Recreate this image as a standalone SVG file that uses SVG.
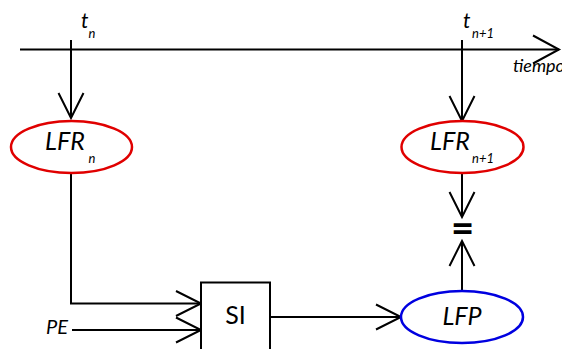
<svg xmlns="http://www.w3.org/2000/svg" width="562" height="349" viewBox="0 0 562 349">
<style>
.ln{fill:none;stroke:#000;stroke-width:2}
.t{font-family:Lato,"Open Sans","Liberation Sans",sans-serif;fill:#000}
.it{font-style:italic}
.red{fill:#fff;stroke:#e00000;stroke-width:2.5}
.blue{fill:#fff;stroke:#0000e0;stroke-width:2.5}
</style>
<defs>
<marker id="ah" markerUnits="userSpaceOnUse" markerWidth="30" markerHeight="30" viewBox="-27 -14 30 28" refX="0" refY="0" orient="auto" overflow="visible">
<path d="M-25,-12.5 L0,0 L-25,12.5" fill="none" stroke="#000" stroke-width="2"/>
</marker>
<marker id="ahT" markerUnits="userSpaceOnUse" markerWidth="30" markerHeight="30" viewBox="-28 -15 30 30" refX="0" refY="0" orient="auto" overflow="visible">
<path d="M-26,-14 L0,0 L-26,14" fill="none" stroke="#000" stroke-width="2"/>
</marker>
</defs>
<g id="connectors">
<line class="ln" x1="20" y1="49.5" x2="559" y2="49.5" marker-end="url(#ahT)"/>
<line class="ln" x1="71" y1="40" x2="71" y2="118" marker-end="url(#ah)"/>
<line class="ln" x1="462" y1="40" x2="462" y2="121" marker-end="url(#ah)"/>
<line class="ln" x1="462" y1="172" x2="462" y2="217" marker-end="url(#ah)"/>
<line class="ln" x1="462" y1="291" x2="462" y2="241" marker-end="url(#ah)"/>
<polyline class="ln" points="71,173 71,303.5 201,303.5" marker-end="url(#ah)"/>
<line class="ln" x1="72" y1="330" x2="201" y2="330" marker-end="url(#ah)"/>
<line class="ln" x1="270" y1="317" x2="401" y2="317" marker-end="url(#ah)"/>
</g>
<g id="timeline-labels">
<text class="t it" x="81" y="28" font-size="21">t</text>
<text class="t it" x="88.5" y="38" font-size="13">n</text>
<text class="t it" x="463" y="28" font-size="21">t</text>
<text class="t it" x="472" y="38" font-size="13">n+1</text>
<text class="t it" x="513" y="72" font-size="18">tiempo</text>
</g>
<g id="LFRn">
<ellipse class="red" cx="71.5" cy="147" rx="60.5" ry="26"/>
<text class="t it" x="45" y="150" font-size="25">LFR</text>
<text class="t it" x="88.5" y="163" font-size="13">n</text>
</g>
<g id="LFRn1">
<ellipse class="red" cx="462.5" cy="147" rx="61" ry="26"/>
<text class="t it" x="430" y="150" font-size="25">LFR</text>
<text class="t it" x="472" y="163" font-size="13">n+1</text>
</g>
<g id="equals">
<text class="t" x="462.5" y="242" font-size="40" text-anchor="middle" font-weight="bold">=</text>
</g>
<g id="LFP">
<ellipse class="blue" cx="462" cy="317" rx="61" ry="26"/>
<text class="t it" x="462" y="325" font-size="25" text-anchor="middle">LFP</text>
</g>
<g id="SI">
<rect x="201" y="282.5" width="69" height="80" fill="#fff" stroke="#000" stroke-width="2"/>
<text class="t" x="235.5" y="324" font-size="25" text-anchor="middle">SI</text>
</g>
<g id="PE">
<text class="t it" x="46" y="334" font-size="20">PE</text>
</g>
</svg>
